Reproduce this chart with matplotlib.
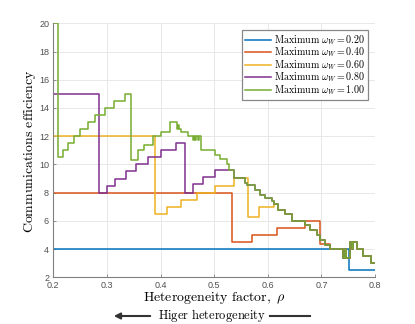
import matplotlib
matplotlib.use("Agg")
import matplotlib.pyplot as plt

plt.rcParams['mathtext.fontset'] = 'cm'
plt.rcParams['font.family'] = ['Liberation Sans', 'DejaVu Sans']

# ---- data (step breakpoints) ----
# shared descending tail (series merge onto it)
tail_x = [0.528, 0.537, 0.558, 0.562, 0.5765, 0.5856, 0.595, 0.6075, 0.611, 0.6192,
          0.6323, 0.6448, 0.6692, 0.6785, 0.6914, 0.6976, 0.7069, 0.7163, 0.741,
          0.744, 0.746, 0.7535, 0.757, 0.759, 0.766, 0.7784, 0.7927, 0.8]
tail_y = [9.6, 9.05, 8.7, 8.55, 8.2, 7.85, 7.6, 7.4, 7.2, 6.8,
          6.5, 6.0, 5.7, 5.35, 5.0, 4.65, 4.3, 4.0, 3.4,
          4.0, 3.4, 4.5, 4.0, 4.5, 4.0, 3.5, 3.0, 3.0]

green_x = [0.2, 0.2093, 0.2187, 0.228, 0.2386, 0.2504, 0.2642, 0.2784, 0.2959, 0.3138,
           0.3343, 0.3444, 0.358, 0.3698, 0.386, 0.4015, 0.4183, 0.430, 0.432, 0.434,
           0.438, 0.4507, 0.460, 0.462, 0.465, 0.467, 0.469, 0.471, 0.4756, 0.5016,
           0.511, 0.5235]
green_y = [20, 10.5, 11.0, 11.5, 12.0, 12.5, 13.0, 13.5, 14.0, 14.5,
           15.0, 10.3, 11.0, 11.4, 12.0, 12.3, 13.0, 12.5, 12.8, 12.5,
           12.3, 12.0, 11.7, 12.0, 11.7, 12.0, 11.7, 12.0, 11.0, 10.65,
           10.35, 10.0]

purple_x = [0.2, 0.2858, 0.3007, 0.3157, 0.335, 0.3543, 0.376, 0.4015, 0.429, 0.4451,
            0.461, 0.48, 0.5016]
purple_y = [15, 8.0, 8.5, 9.0, 9.5, 10.0, 10.5, 11.0, 11.5, 8.0,
            8.6, 9.1, 9.6]

yellow_x = [0.2, 0.389, 0.4116, 0.438, 0.4675, 0.5017, 0.537, 0.5627, 0.5843]
yellow_y = [12, 6.5, 7.0, 7.5, 8.0, 8.5, 9.05, 6.3, 7.0]
yellow_join = 0.610

red_x = [0.2, 0.534, 0.571, 0.6168, 0.6692, 0.6976]
red_y = [8.0, 4.5, 5.0, 5.5, 6.0, 4.35]
red_join = 0.7163

blue_x = [0.2, 0.7517, 0.8]
blue_y = [4.0, 2.5, 2.5]

labels = ['0.20', '0.40', '0.60', '0.80', '1.00']
colors = ['#0072BD', '#D95319', '#EDB120', '#7E2F8E', '#77AC30']


def join(hx, hy, start):
    xs = list(hx)
    ys = list(hy)
    for x, y in zip(tail_x, tail_y):
        if x >= start:
            xs.append(x)
            ys.append(y)
    return xs, ys


series = [
    (blue_x, blue_y),
    join(red_x, red_y, red_join),
    join(yellow_x, yellow_y, yellow_join),
    join(purple_x, purple_y, 0.528),
    join(green_x, green_y, 0.528),
]

fig = plt.figure(figsize=(4.15, 3.24), dpi=100)
ax = fig.add_axes([0.1284, 0.1441, 0.9036 - 0.1284, 0.928 - 0.1441])

for (xs, ys), lab, c in zip(series, labels, colors):
    ax.plot(xs, ys, drawstyle='steps-post', color=c, lw=1.1,
            label=r'$\mathrm{Maximum}\ \omega_W = ' + lab + '$')

ax.set_xlim(0.2, 0.8)
ax.set_ylim(2, 20)
ax.set_xticks([0.2, 0.3, 0.4, 0.5, 0.6, 0.7, 0.8])
ax.set_xticklabels(['0.2', '0.3', '0.4', '0.5', '0.6', '0.7', '0.8'])
ax.set_yticks(range(2, 21, 2))
ax.grid(True, color='#e8e8e8', lw=0.7)
ax.set_axisbelow(True)
for s in ['top', 'right']:
    ax.spines[s].set_visible(False)
for s in ['left', 'bottom']:
    ax.spines[s].set_color('#808080')
    ax.spines[s].set_linewidth(0.8)
ax.tick_params(direction='in', length=2.5, width=0.6, colors='#808080',
               labelcolor='#505050', labelsize=6.5)
ax.tick_params(axis='x', pad=3)
ax.tick_params(axis='y', pad=3)

fig.text(30 / 415, 1 - 151 / 324, r'$\mathrm{Communications\ efficiency}$',
         fontsize=10, ha='center', va='center', rotation=90)
fig.text(214 / 415, 1 - 298 / 324, r'$\mathrm{Heterogeneity\ factor},\ \rho$',
         fontsize=10, ha='center', va='center')

leg = ax.legend(loc='upper right', bbox_to_anchor=(0.979, 0.9736), borderaxespad=0,
                fontsize=7.2, handlelength=2.6, handletextpad=0.3, labelspacing=-0.12,
                borderpad=0.3, fancybox=False, framealpha=1)
leg.get_frame().set_edgecolor('#888888')
leg.get_frame().set_linewidth(0.9)

fig.text(212 / 415, 1 - 316 / 324, r'$\mathrm{Higer\ heterogeneity}$', fontsize=9,
         ha='center', va='center')
fig.add_artist(matplotlib.patches.FancyArrowPatch(
    (153 / 415, 1 - 316 / 324), (111 / 415, 1 - 316 / 324), transform=fig.transFigure,
    arrowstyle='-|>', mutation_scale=9, lw=1.5, color='#333333'))
fig.add_artist(matplotlib.lines.Line2D([270 / 415, 310 / 415], [1 - 316 / 324, 1 - 316 / 324],
                                       transform=fig.transFigure, lw=1.5, color='#333333'))

fig.savefig('out.png', dpi=100)
